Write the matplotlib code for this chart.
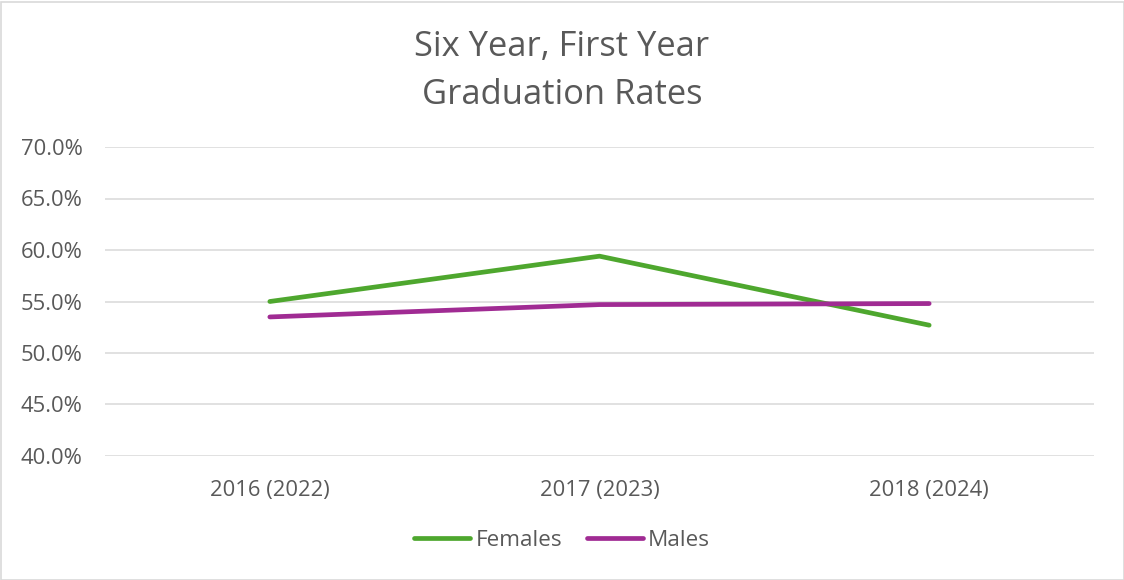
import matplotlib
matplotlib.use("Agg")
import matplotlib.pyplot as plt
from matplotlib.ticker import PercentFormatter
from matplotlib.patches import Rectangle

categories = ["2016 (2022)", "2017 (2023)", "2018 (2024)"]
females = [55.0, 59.4, 52.7]
males = [53.5, 54.7, 54.8]
y_ticks = [40, 45, 50, 55, 60, 65, 70]

plt.rcParams['font.family'] = ['Open Sans', 'DejaVu Sans']
text_color = "#595959"

fig = plt.figure(figsize=(11.24, 5.80), dpi=100)
ax = fig.add_axes([105/1124, 1 - 456/580, (1094-105)/1124, (456-147)/580])

x = list(range(len(categories)))
ax.plot(x, females, color="#4EA72E", lw=3.4, solid_capstyle="round", solid_joinstyle="round", label="Females", zorder=3)
ax.plot(x, males, color="#A02B93", lw=3.4, solid_capstyle="round", solid_joinstyle="round", label="Males", zorder=3)

ax.set_xlim(-0.5, 2.5)
ax.set_ylim(40, 70)
ax.set_yticks(y_ticks)
ax.yaxis.set_major_formatter(PercentFormatter(decimals=1))
ax.set_xticks(x)
ax.set_xticklabels(categories)
ax.grid(axis="y", color="#d9d9d9", lw=1.1)
ax.set_axisbelow(True)
for s in ax.spines.values():
    s.set_visible(False)
ax.tick_params(axis="both", length=0, colors=text_color, labelsize=15.8)
ax.tick_params(axis="y", pad=16)
ax.tick_params(axis="x", pad=17)

fig.text(0.5, 1 - 71/580, "Six Year, First Year\nGraduation Rates", ha="center", va="center",
         fontsize=24.8, color=text_color, linespacing=1.5)

leg = fig.legend(loc="center", bbox_to_anchor=(0.5, 1 - 540/580), ncol=2, frameon=False,
                 fontsize=16.2, handlelength=2.5, handletextpad=0.22, columnspacing=1.1)
for t in leg.get_texts():
    t.set_color(text_color)

fig.patches.append(Rectangle((0.5/1124, 0.5/580), 1 - 1/1124, 1 - 2/580, transform=fig.transFigure,
                             fill=False, edgecolor="#d9d9d9", lw=1.2))

fig.savefig("out.png", dpi=100, facecolor="white")
